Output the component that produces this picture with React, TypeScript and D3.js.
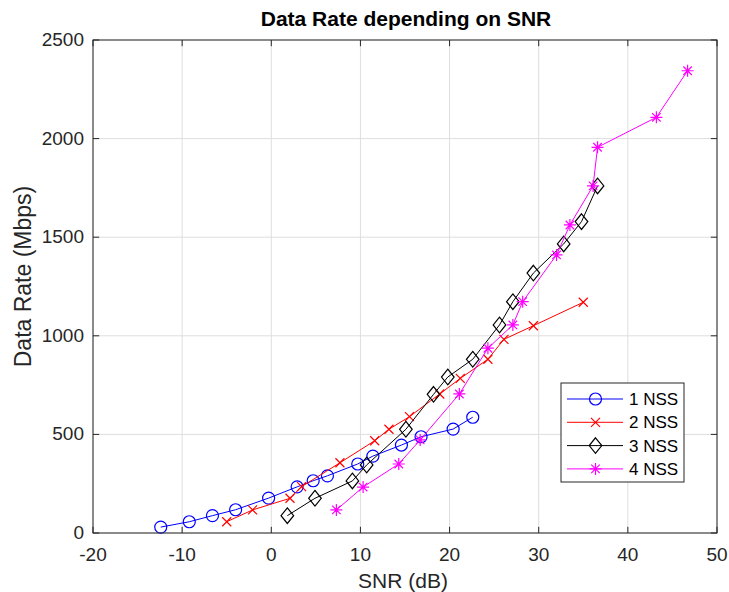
import React from 'react';
import * as d3 from 'd3';

// SNR (dB) and data rate (Mbps) per number of spatial streams
const nss1Snr = [-12.4, -9.2, -6.6, -4.0, -0.3, 2.9, 4.7, 6.3, 9.7, 11.4, 14.6, 16.8, 20.4, 22.6];
const nss1Rate = [30, 57, 88, 118, 177, 234, 265, 290, 350, 390, 446, 488, 527, 587];

const nss2Snr = [-5.0, -2.1, 2.1, 3.4, 7.7, 11.6, 13.2, 15.5, 18.9, 21.2, 24.3, 26.1, 29.4, 35.0];
const nss2Rate = [57, 117, 176, 235, 356, 468, 526, 590, 705, 784, 881, 982, 1051, 1170];

const nss3Snr = [1.8, 4.9, 9.1, 10.7, 15.1, 18.2, 19.8, 22.6, 25.6, 27.1, 29.4, 32.8, 34.8, 36.6];
const nss3Rate = [88, 176, 264, 345, 526, 703, 791, 881, 1055, 1173, 1318, 1466, 1579, 1760];

const nss4Snr = [7.3, 10.3, 14.3, 16.7, 21.1, 24.3, 27.1, 28.2, 32.0, 33.5, 36.1, 36.6, 43.2, 46.7];
const nss4Rate = [117, 233, 350, 472, 705, 937, 1055, 1173, 1410, 1562, 1760, 1956, 2108, 2344];

const seriesNames = ['1 NSS', '2 NSS', '3 NSS', '4 NSS'];
const xTicks = [-20, -10, 0, 10, 20, 30, 40, 50];
const yTicks = [0, 500, 1000, 1500, 2000, 2500];

const titleText = 'Data Rate depending on SNR';
const xLabel = 'SNR (dB)';
const yLabel = 'Data Rate (Mbps)';

type MarkerKind = 'o' | 'x' | 'd' | '*';

const series = [
  { name: seriesNames[0], snr: nss1Snr, rate: nss1Rate, color: '#0000ff', marker: 'o' as MarkerKind },
  { name: seriesNames[1], snr: nss2Snr, rate: nss2Rate, color: '#ff0000', marker: 'x' as MarkerKind },
  { name: seriesNames[2], snr: nss3Snr, rate: nss3Rate, color: '#000000', marker: 'd' as MarkerKind },
  { name: seriesNames[3], snr: nss4Snr, rate: nss4Rate, color: '#ff00ff', marker: '*' as MarkerKind },
];

const FONT = '"Liberation Sans", Arial, Helvetica, sans-serif';
const AXIS = '#262626';

function Marker({ kind, cx, cy, color }: { kind: MarkerKind; cx: number; cy: number; color: string }) {
  const sw = 1.2;
  if (kind === 'o') {
    return <circle cx={cx} cy={cy} r={6} fill="none" stroke={color} strokeWidth={sw} />;
  }
  if (kind === 'x') {
    const s = 4.5;
    return (
      <path
        d={`M${cx - s},${cy - s}L${cx + s},${cy + s}M${cx - s},${cy + s}L${cx + s},${cy - s}`}
        stroke={color}
        strokeWidth={sw}
        fill="none"
      />
    );
  }
  if (kind === 'd') {
    const hw = 6.3;
    const hh = 7.8;
    return (
      <path
        d={`M${cx},${cy - hh}L${cx + hw},${cy}L${cx},${cy + hh}L${cx - hw},${cy}Z`}
        stroke={color}
        strokeWidth={sw}
        fill="none"
      />
    );
  }
  const r = 6;
  const d = r * Math.SQRT1_2;
  return (
    <path
      d={`M${cx - r},${cy}L${cx + r},${cy}M${cx},${cy - r}L${cx},${cy + r}M${cx - d},${cy - d}L${cx + d},${cy + d}M${cx - d},${cy + d}L${cx + d},${cy - d}`}
      stroke={color}
      strokeWidth={sw}
      fill="none"
    />
  );
}

export default function App() {
  const W = 729;
  const H = 592;
  const left = 93;
  const right = 717;
  const top = 40;
  const bottom = 533;

  const x = d3.scaleLinear().domain([-20, 50]).range([left, right]);
  const y = d3.scaleLinear().domain([0, 2500]).range([bottom, top]);
  const line = d3
    .line<[number, number]>()
    .x((d) => x(d[0]))
    .y((d) => y(d[1]));

  const tickLen = 6.2;

  // legend box
  const lgX = 561;
  const lgY = 383;
  const lgW = 123;
  const lgH = 99;
  const rowY = (i: number) => 399 + i * 23.3;

  return (
    <svg
      width={W}
      height={H}
      viewBox={`0 0 ${W} ${H}`}
      style={{ position: 'absolute', left: 0, top: 0, background: '#fff' }}
      fontFamily={FONT}
    >
      <rect x={0} y={0} width={W} height={H} fill="#fff" />

      {/* grid */}
      <g stroke="#dedede" strokeWidth={1}>
        {xTicks.map((t) => (
          <line key={`gx${t}`} x1={x(t)} x2={x(t)} y1={top} y2={bottom} />
        ))}
        {yTicks.map((t) => (
          <line key={`gy${t}`} x1={left} x2={right} y1={y(t)} y2={y(t)} />
        ))}
      </g>

      {/* series */}
      {series.map((s) => {
        const pts = s.snr.map((v, i) => [v, s.rate[i]] as [number, number]);
        return (
          <g key={s.name}>
            <path d={line(pts) || ''} fill="none" stroke={s.color} strokeWidth={1} />
            {pts.map((p, i) => (
              <Marker key={i} kind={s.marker} cx={x(p[0])} cy={y(p[1])} color={s.color} />
            ))}
          </g>
        );
      })}

      {/* axes box and ticks */}
      <g stroke={AXIS} strokeWidth={1} fill="none">
        <rect x={left} y={top} width={right - left} height={bottom - top} />
        {xTicks.map((t) => (
          <g key={`tx${t}`}>
            <line x1={x(t)} x2={x(t)} y1={bottom} y2={bottom - tickLen} />
            <line x1={x(t)} x2={x(t)} y1={top} y2={top + tickLen} />
          </g>
        ))}
        {yTicks.map((t) => (
          <g key={`ty${t}`}>
            <line x1={left} x2={left + tickLen} y1={y(t)} y2={y(t)} />
            <line x1={right} x2={right - tickLen} y1={y(t)} y2={y(t)} />
          </g>
        ))}
      </g>

      {/* tick labels */}
      <g fill={AXIS} fontSize={19}>
        {xTicks.map((t) => (
          <text key={`lx${t}`} x={x(t)} y={561} textAnchor="middle">
            {t}
          </text>
        ))}
        {yTicks.map((t) => (
          <text key={`ly${t}`} x={left - 9} y={y(t) + 6} textAnchor="end">
            {t}
          </text>
        ))}
      </g>

      {/* axis labels and title */}
      <text x={(left + right) / 2 - 2} y={588} textAnchor="middle" fontSize={21} fill={AXIS}>
        {xLabel}
      </text>
      <text
        transform={`translate(31,${(top + bottom) / 2 - 10}) rotate(-90)`}
        textAnchor="middle"
        fontSize={23}
        fill={AXIS}
      >
        {yLabel}
      </text>
      <text x={(left + right) / 2 + 1} y={26} textAnchor="middle" fontSize={21} fontWeight="bold" fill="#000">
        {titleText}
      </text>

      {/* legend */}
      <rect x={lgX} y={lgY} width={lgW} height={lgH} fill="#fff" stroke={AXIS} strokeWidth={1} />
      {series.map((s, i) => (
        <g key={`lg${s.name}`}>
          <line x1={567} x2={623} y1={rowY(i)} y2={rowY(i)} stroke={s.color} strokeWidth={1} />
          <Marker kind={s.marker} cx={595.5} cy={rowY(i)} color={s.color} />
          <text x={629} y={rowY(i) + 6} fontSize={17} fill="#000">
            {s.name}
          </text>
        </g>
      ))}
    </svg>
  );
}
